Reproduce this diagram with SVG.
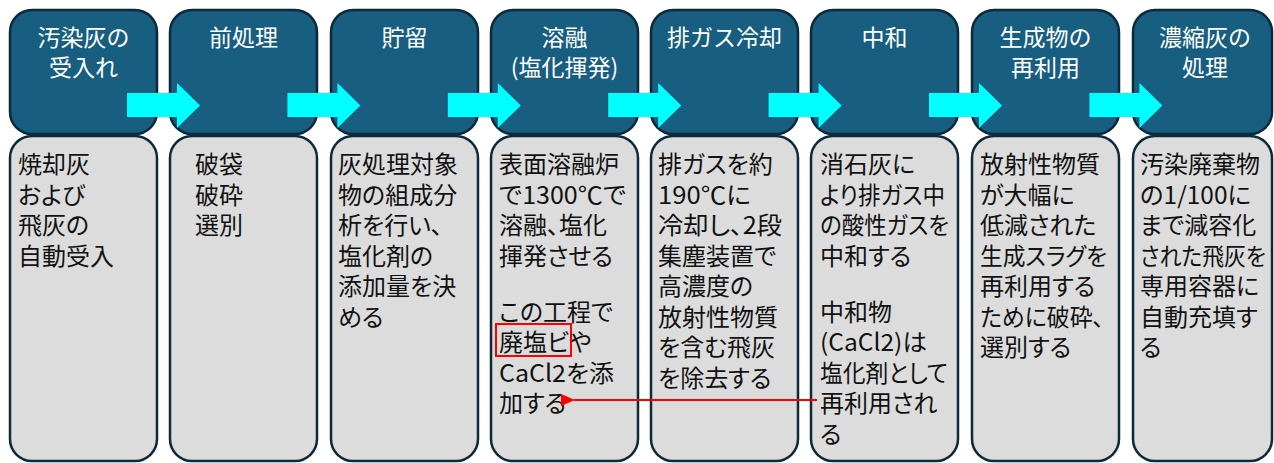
<svg xmlns="http://www.w3.org/2000/svg" width="1274" height="463" viewBox="0 0 1274 463">
<defs>
<style>
.top{fill:#175e80;stroke:#0d2a3b;stroke-width:2.5}
.bot{fill:#dcdcdc;stroke:#0d2a3b;stroke-width:2.5}
.tt{font-family:"Noto Sans CJK JP","Noto Sans",sans-serif;font-size:23px;fill:#ffffff;text-anchor:middle}
.bt{font-family:"Noto Sans CJK JP","Noto Sans",sans-serif;font-size:24px;fill:#111111;font-feature-settings:"palt"}
.flow{fill:#00ffff}
.red{stroke:#ff0000;stroke-width:2;fill:none}
</style>
<marker id="rh" markerWidth="14" markerHeight="12" refX="1" refY="6" orient="auto" markerUnits="userSpaceOnUse">
<path d="M14,0 L0,6 L14,12 Z" fill="#ff0000"/>
</marker>
<polygon id="ar" points="127,93 177,93 177,83 200,105.5 177,128 177,117 127,117"/>
</defs>

<g id="n1">
<rect class="top" x="10" y="10" width="147" height="124" rx="22"/>
<rect class="bot" x="10" y="136" width="147" height="325" rx="22"/>
<text class="tt" x="83.5" y="45.5"><tspan x="83.5">汚染灰の</tspan><tspan x="83.5" dy="30.5">受入れ</tspan></text>
<text class="bt" y="173"><tspan x="18">焼却灰</tspan><tspan x="18" dy="30.5">および</tspan><tspan x="18" dy="30.5">飛灰の</tspan><tspan x="18" dy="30.5">自動受入</tspan></text>
</g>
<g id="n2">
<rect class="top" x="170" y="10" width="147" height="124" rx="22"/>
<rect class="bot" x="170" y="136" width="147" height="325" rx="22"/>
<text class="tt" x="243.5" y="45.5">前処理</text>
<text class="bt" y="173"><tspan x="195">破袋</tspan><tspan x="195" dy="30.5">破砕</tspan><tspan x="195" dy="30.5">選別</tspan></text>
</g>
<g id="n3">
<rect class="top" x="331" y="10" width="147" height="124" rx="22"/>
<rect class="bot" x="331" y="136" width="147" height="325" rx="22"/>
<text class="tt" x="404.5" y="45.5">貯留</text>
<text class="bt" y="173"><tspan x="338">灰処理対象</tspan><tspan x="338" dy="30.5">物の組成分</tspan><tspan x="338" dy="30.5">析を行い、</tspan><tspan x="338" dy="30.5">塩化剤の</tspan><tspan x="338" dy="30.5">添加量を決</tspan><tspan x="338" dy="30.5">める</tspan></text>
</g>
<g id="n4">
<rect class="top" x="491" y="10" width="147" height="124" rx="22"/>
<rect class="bot" x="491" y="136" width="147" height="325" rx="22"/>
<text class="tt" x="564.5" y="45.5"><tspan x="564.5">溶融</tspan><tspan x="564.5" dy="30.5">(塩化揮発)</tspan></text>
<text class="bt" x="499" y="173">表面溶融炉</text>
<text class="bt" x="499" y="203.5" textLength="127" lengthAdjust="spacingAndGlyphs">で1300℃で</text>
<text class="bt" x="499" y="234">溶融、塩化</text>
<text class="bt" x="499" y="264.5">揮発させる</text>
<text class="bt" x="499" y="320.5">この工程で</text>
<text class="bt" x="499" y="351">廃塩ビや</text>
<text class="bt" x="499" y="381.5" textLength="115" lengthAdjust="spacingAndGlyphs">CaCl2を添</text>
<text class="bt" x="499" y="412">加する</text>
<rect class="red" x="496" y="324" width="75" height="32"/>
</g>
<g id="n5">
<rect class="top" x="651" y="10" width="147" height="124" rx="22"/>
<rect class="bot" x="651" y="136" width="147" height="325" rx="22"/>
<text class="tt" x="724.5" y="45.5">排ガス冷却</text>
<text class="bt" x="658" y="173">排ガスを約</text>
<text class="bt" x="658" y="203.5" textLength="93" lengthAdjust="spacingAndGlyphs">190℃に</text>
<text class="bt" x="658" y="234" textLength="124" lengthAdjust="spacingAndGlyphs">冷却し、2段</text>
<text class="bt" x="658" y="264.5">集塵装置で</text>
<text class="bt" x="658" y="295">高濃度の</text>
<text class="bt" x="658" y="325.5">放射性物質</text>
<text class="bt" x="658" y="356">を含む飛灰</text>
<text class="bt" x="658" y="386.5">を除去する</text>
</g>
<g id="n6">
<rect class="top" x="811" y="10" width="147" height="124" rx="22"/>
<rect class="bot" x="811" y="136" width="147" height="325" rx="22"/>
<text class="tt" x="884.5" y="45.5">中和</text>
<text class="bt" x="820" y="173">消石灰に</text>
<text class="bt" x="820" y="203.5" textLength="125" lengthAdjust="spacingAndGlyphs">より排ガス中</text>
<text class="bt" x="820" y="234" textLength="129" lengthAdjust="spacingAndGlyphs">の酸性ガスを</text>
<text class="bt" x="820" y="264.5">中和する</text>
<text class="bt" x="820" y="320.5">中和物</text>
<text class="bt" x="820" y="351" textLength="107" lengthAdjust="spacingAndGlyphs">(CaCl2)は</text>
<text class="bt" x="820" y="381.5" textLength="128" lengthAdjust="spacingAndGlyphs">塩化剤として</text>
<text class="bt" x="820" y="412">再利用され</text>
<text class="bt" x="820" y="442.5">る</text>
</g>
<g id="n7">
<rect class="top" x="972" y="10" width="147" height="124" rx="22"/>
<rect class="bot" x="972" y="136" width="147" height="325" rx="22"/>
<text class="tt" x="1045.5" y="45.5"><tspan x="1045.5">生成物の</tspan><tspan x="1045.5" dy="30.5">再利用</tspan></text>
<text class="bt" x="980" y="173">放射性物質</text>
<text class="bt" x="980" y="203.5">が大幅に</text>
<text class="bt" x="980" y="234">低減された</text>
<text class="bt" x="980" y="264.5" textLength="127" lengthAdjust="spacingAndGlyphs">生成スラグを</text>
<text class="bt" x="980" y="295">再利用する</text>
<text class="bt" x="980" y="325.5" textLength="124" lengthAdjust="spacingAndGlyphs">ために破砕、</text>
<text class="bt" x="980" y="356">選別する</text>
</g>
<g id="n8">
<rect class="top" x="1133" y="10" width="139" height="124" rx="22"/>
<rect class="bot" x="1133" y="136" width="139" height="325" rx="22"/>
<text class="tt" x="1205" y="45.5"><tspan x="1205">濃縮灰の</tspan><tspan x="1205" dy="30.5">処理</tspan></text>
<text class="bt" x="1140" y="173">汚染廃棄物</text>
<text class="bt" x="1140" y="203.5" textLength="111" lengthAdjust="spacingAndGlyphs">の1/100に</text>
<text class="bt" x="1140" y="234">まで減容化</text>
<text class="bt" x="1140" y="264.5" textLength="126" lengthAdjust="spacingAndGlyphs">された飛灰を</text>
<text class="bt" x="1140" y="295">専用容器に</text>
<text class="bt" x="1140" y="325.5">自動充填す</text>
<text class="bt" x="1140" y="356">る</text>
</g>

<g id="connectors">
<use href="#ar" class="flow"/>
<use href="#ar" class="flow" transform="translate(160.4,0)"/>
<use href="#ar" class="flow" transform="translate(320.8,0)"/>
<use href="#ar" class="flow" transform="translate(481.2,0)"/>
<use href="#ar" class="flow" transform="translate(641.6,0)"/>
<use href="#ar" class="flow" transform="translate(802,0)"/>
<use href="#ar" class="flow" transform="translate(962.4,0)"/>
<line class="red" x1="817" y1="400" x2="574" y2="400" marker-end="url(#rh)"/>
</g>
</svg>
